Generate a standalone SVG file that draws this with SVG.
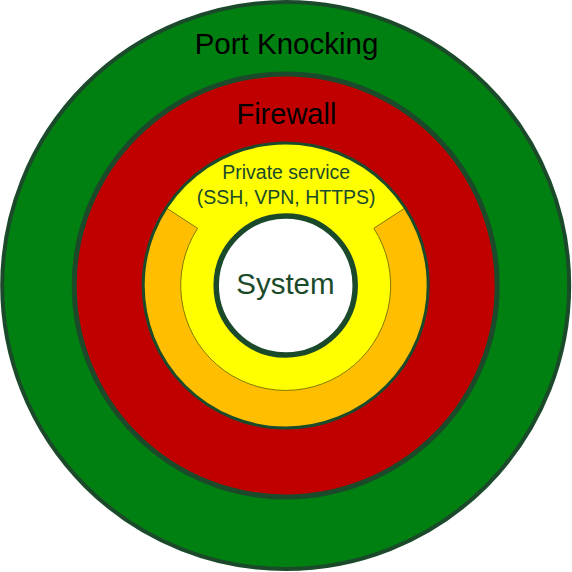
<svg xmlns="http://www.w3.org/2000/svg" width="572" height="572" viewBox="0 0 572 572">
<style>
.ring{stroke:#1b4a2b}
.lbl{font-family:"Liberation Sans",Arial,sans-serif;text-anchor:middle}
.big{font-size:29.5px;fill:#000}
.inner{fill:#1b4a2b}
</style>
<rect width="572" height="572" fill="#fff"/>
<g id="port-knocking">
<circle class="ring" cx="285.7" cy="285.5" r="283.5" fill="#008010" stroke-width="4"/>
<text class="lbl big" x="286.5" y="53.5">Port Knocking</text>
</g>
<g id="firewall">
<circle class="ring" cx="285.7" cy="285.5" r="211.5" fill="#c00000" stroke-width="5"/>
<text class="lbl big" x="286.4" y="124.3" style="font-size:29px">Firewall</text>
</g>
<g id="private-service">
<circle cx="285.7" cy="285.5" r="142.5" fill="#ffff00"/>
<path d="M405.2 207.9 A142.5 142.5 0 1 1 166.2 207.9 L197.6 228.3 A105 105 0 1 0 373.8 228.3 Z" fill="#ffbf00" stroke="#7f7a00" stroke-width="1"/>
<circle class="ring" cx="285.7" cy="285.5" r="142.5" fill="none" stroke-width="3"/>
<text class="lbl inner" x="286.2" y="179.3" style="font-size:19.5px">Private service</text>
<text class="lbl inner" x="286.2" y="204" style="font-size:19.5px">(SSH, VPN, HTTPS)</text>
</g>
<g id="system">
<circle class="ring" cx="285.7" cy="285.5" r="69.5" fill="#fff" stroke-width="5.5"/>
<text class="lbl inner" x="285.4" y="294.3" style="font-size:29.5px">System</text>
</g>
<g id="connectors"/>
</svg>
